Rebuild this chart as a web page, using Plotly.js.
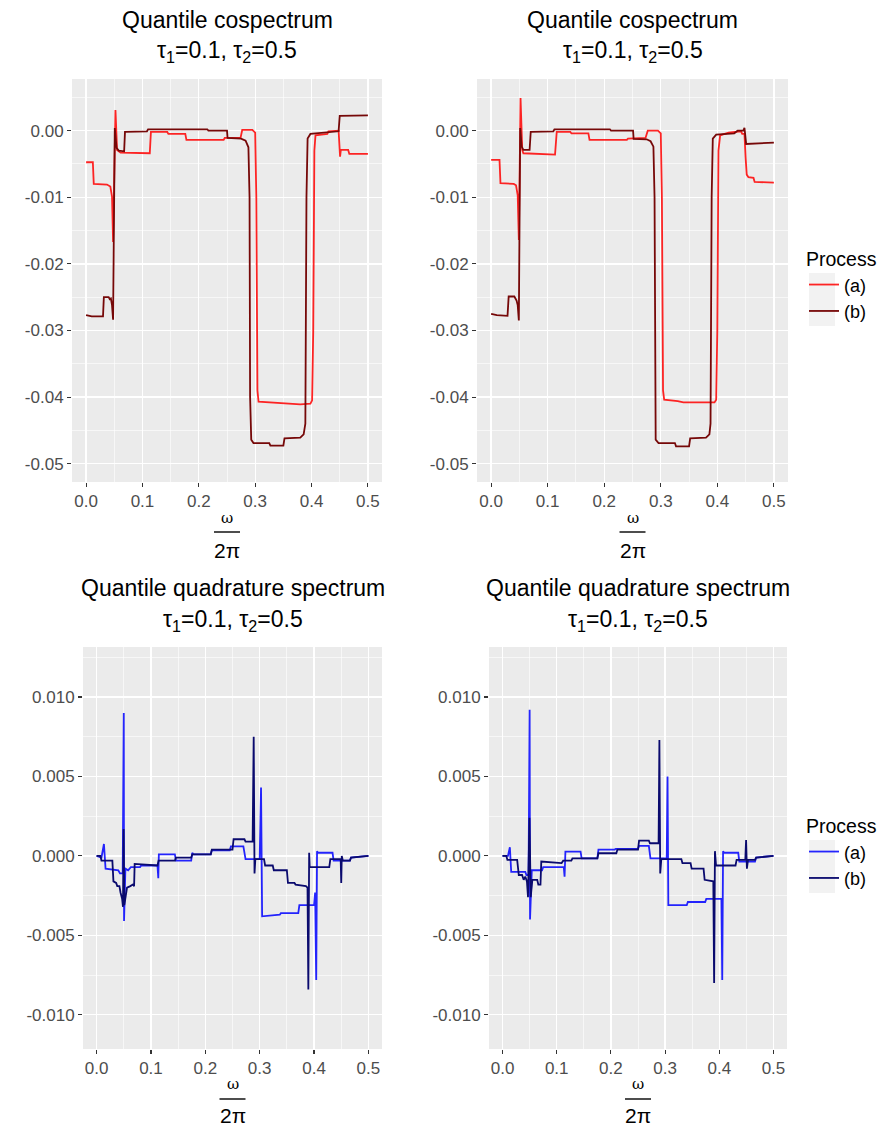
<!DOCTYPE html>
<html>
<head>
<meta charset="utf-8">
<script src="https://cdn.plot.ly/plotly-3.0.1.min.js"></script>
<style>html,body{margin:0;padding:0;background:#fff}#chart{width:883px;height:1126px}</style>
</head>
<body>
<div id="chart"></div>
<script>
// ---------- DATA ----------
// Top-left: quantile cospectrum
const tl_a_x = [0,0.012,0.0136,0.037,0.043,0.046,0.0479,0.0521,0.055,0.0611,0.113,0.115,0.144,0.146,0.176,0.178,0.244,0.246,0.274,0.277,0.295,0.300,0.302,0.304,0.306,0.33,0.36,0.38,0.398,0.401,0.403,0.405,0.407,0.428,0.430,0.448,0.4506,0.452,0.465,0.467,0.5];
const tl_a_y = [-0.00475,-0.00475,-0.0080,-0.0081,-0.0084,-0.0099,-0.0167,0.0031,-0.0029,-0.0033,-0.0034,-0.0002,-0.0002,-0.0005,-0.0005,-0.0014,-0.0014,-0.0011,-0.0011,0.0001,0.0001,-0.0003,-0.010,-0.039,-0.0407,-0.0408,-0.0410,-0.0411,-0.0410,-0.0405,-0.030,-0.003,-0.0007,-0.0005,-0.0001,0.0000,-0.0039,-0.0029,-0.0029,-0.0035,-0.0035];
const tl_b_x = [0,0.008,0.010,0.030,0.0315,0.040,0.042,0.044,0.046,0.0479,0.0509,0.054,0.058,0.0675,0.069,0.108,0.11,0.215,0.217,0.250,0.251,0.275,0.283,0.288,0.290,0.291,0.293,0.297,0.325,0.327,0.350,0.352,0.380,0.386,0.389,0.391,0.393,0.398,0.425,0.448,0.450,0.5];
const tl_b_y = [-0.0277,-0.0278,-0.0279,-0.0279,-0.0250,-0.0250,-0.0253,-0.0252,-0.0262,-0.0284,0.0004,-0.0026,-0.0030,-0.0031,-0.0002,-0.0001,0.0002,0.0002,0.0000,0.0000,-0.0011,-0.0012,-0.0015,-0.0025,-0.010,-0.040,-0.0464,-0.0469,-0.0469,-0.0473,-0.0473,-0.0462,-0.0461,-0.0456,-0.044,-0.010,-0.0012,-0.0005,-0.0003,-0.0001,0.0022,0.0023];
// Top-right: quantile cospectrum
const tr_a_x = [0,0.0148,0.0165,0.040,0.044,0.047,0.049,0.052,0.055,0.057,0.113,0.116,0.140,0.142,0.172,0.174,0.240,0.242,0.273,0.277,0.295,0.300,0.302,0.304,0.306,0.33,0.34,0.395,0.398,0.400,0.402,0.405,0.42,0.435,0.442,0.444,0.448,0.450,0.452,0.455,0.464,0.466,0.5];
const tr_a_y = [-0.0044,-0.0044,-0.0079,-0.0080,-0.0082,-0.0097,-0.0164,0.0049,-0.0029,-0.0034,-0.0036,-0.0002,-0.0002,-0.0004,-0.0004,-0.0014,-0.0014,-0.0012,-0.0011,0.0000,0.0000,-0.0004,-0.010,-0.039,-0.0404,-0.0406,-0.0408,-0.0408,-0.0404,-0.030,-0.003,-0.0007,-0.0003,-0.0001,-0.0001,-0.0005,-0.0005,-0.004,-0.0066,-0.0070,-0.0071,-0.0077,-0.0078];
const tr_b_x = [0,0.010,0.029,0.031,0.041,0.045,0.047,0.049,0.0514,0.054,0.057,0.068,0.070,0.110,0.112,0.210,0.212,0.251,0.252,0.275,0.282,0.287,0.289,0.290,0.291,0.296,0.325,0.327,0.350,0.352,0.380,0.386,0.388,0.390,0.392,0.398,0.430,0.436,0.446,0.448,0.451,0.5];
const tr_b_y = [-0.0275,-0.0277,-0.0278,-0.0249,-0.0249,-0.0255,-0.0262,-0.0285,0.0004,-0.0024,-0.0029,-0.0029,-0.0002,-0.0001,0.0002,0.0002,0.0000,0.0000,-0.00125,-0.0013,-0.0016,-0.0024,-0.010,-0.040,-0.0464,-0.0469,-0.0469,-0.0474,-0.0474,-0.0462,-0.0461,-0.0456,-0.044,-0.010,-0.0012,-0.0006,-0.0004,0.0000,0.0000,0.0004,-0.0020,-0.0018];
// Bottom-left: quantile quadrature spectrum
const bl_a_x = [0,0.009,0.0135,0.0165,0.040,0.043,0.048,0.0500,0.0505,0.053,0.058,0.063,0.080,0.082,0.112,0.1135,0.1145,0.144,0.146,0.174,0.176,0.178,0.210,0.212,0.245,0.247,0.270,0.274,0.300,0.3025,0.3045,0.337,0.339,0.371,0.373,0.400,0.402,0.404,0.4055,0.407,0.434,0.436,0.466,0.468,0.5];
const bl_a_y = [0.0000,-0.0001,0.00075,-0.0008,-0.0009,-0.0011,-0.0011,0.0090,-0.0041,-0.0008,-0.0009,-0.0007,-0.0007,-0.0006,-0.0006,-0.0014,0.0001,0.0001,-0.0003,-0.0003,0.0002,0.0001,0.0001,0.00035,0.00035,0.0006,0.0006,-0.0002,-0.0002,0.0043,-0.0038,-0.0037,-0.0036,-0.0036,-0.0031,-0.0031,-0.0023,-0.0078,0.0003,0.0002,0.0002,-0.0003,-0.0003,-0.0001,0.0000];
const bl_b_x = [0,0.007,0.009,0.029,0.031,0.036,0.038,0.042,0.044,0.047,0.0485,0.0497,0.051,0.053,0.056,0.062,0.067,0.069,0.070,0.112,0.114,0.144,0.146,0.174,0.176,0.210,0.212,0.250,0.252,0.272,0.274,0.287,0.289,0.2905,0.292,0.308,0.310,0.324,0.326,0.350,0.352,0.364,0.366,0.385,0.388,0.3895,0.391,0.392,0.428,0.430,0.449,0.450,0.451,0.453,0.466,0.468,0.5];
const bl_b_y = [0.0000,0.0000,-0.0003,-0.0003,-0.0016,-0.0017,-0.0019,-0.0019,-0.0023,-0.0027,-0.0032,0.0017,-0.0031,-0.0025,-0.0020,-0.0019,-0.0018,-0.0019,-0.0005,-0.0006,-0.0003,-0.0003,-0.0001,-0.0001,0.0001,0.0001,0.0004,0.0004,0.00105,0.00105,0.0009,0.0009,0.0075,-0.0011,-0.0002,-0.0002,-0.0006,-0.0006,-0.0009,-0.0009,-0.0017,-0.0017,-0.0018,-0.0019,-0.0020,-0.0084,0.0002,-0.0007,-0.0007,-0.0002,-0.0002,-0.0017,0.0000,-0.0003,-0.0003,-0.0001,0.0000];
// Bottom-right: quantile quadrature spectrum
const br_a_x = [0,0.010,0.0135,0.016,0.042,0.044,0.048,0.0500,0.0507,0.054,0.073,0.075,0.113,0.1145,0.116,0.144,0.146,0.175,0.177,0.207,0.209,0.250,0.252,0.270,0.273,0.303,0.3045,0.306,0.340,0.342,0.374,0.376,0.404,0.4055,0.407,0.409,0.435,0.437,0.466,0.468,0.5];
const br_a_y = [0.0000,0.0000,0.00055,-0.0010,-0.0010,-0.0012,-0.0012,0.0092,-0.0040,-0.0009,-0.0009,-0.0007,-0.0007,-0.0013,0.00027,0.00027,-0.00015,-0.00015,0.0004,0.0004,0.00045,0.00045,0.00063,0.00063,-0.00015,-0.00015,0.0050,-0.0031,-0.0031,-0.0029,-0.0029,-0.0027,-0.0027,-0.0078,0.0003,0.0002,0.0002,-0.00035,-0.00035,-0.0001,0.0000];
const br_b_x = [0,0.007,0.009,0.027,0.030,0.036,0.039,0.042,0.045,0.047,0.0497,0.052,0.055,0.064,0.066,0.070,0.0715,0.109,0.112,0.127,0.129,0.175,0.177,0.210,0.212,0.250,0.252,0.270,0.272,0.288,0.2895,0.291,0.293,0.330,0.332,0.347,0.349,0.371,0.373,0.389,0.3905,0.392,0.394,0.430,0.432,0.448,0.4495,0.451,0.453,0.466,0.468,0.5];
const br_b_y = [0.0000,0.0000,-0.00025,-0.00025,-0.0012,-0.0012,-0.0015,-0.0013,-0.0016,-0.0026,0.0024,-0.0026,-0.0015,-0.0015,-0.0018,-0.0018,-0.00035,-0.00045,-0.0003,-0.0003,-0.00015,-0.00015,0.00017,0.00017,0.0004,0.0004,0.00097,0.00097,0.0008,0.0008,0.0073,-0.0011,-0.0002,-0.0002,-0.00045,-0.00045,-0.0008,-0.0008,-0.0015,-0.0016,-0.0080,0.0003,-0.0006,-0.0006,-0.00025,-0.00025,0.0010,-0.0008,-0.00025,-0.00025,-0.0001,0.0000];

const seriesNames = ['(a)', '(b)'];
const legendTitle = 'Process';
const titleCo = 'Quantile cospectrum';
const titleQuad = 'Quantile quadrature spectrum';
const subTitle = 'τ<sub>1</sub>=0.1, τ<sub>2</sub>=0.5';
const xTickVals = [0, 0.1, 0.2, 0.3, 0.4, 0.5];
const xTickText = ['0.0', '0.1', '0.2', '0.3', '0.4', '0.5'];
const coTickVals = [0, -0.01, -0.02, -0.03, -0.04, -0.05];
const coTickText = ['0.00', '-0.01', '-0.02', '-0.03', '-0.04', '-0.05'];
const quadTickVals = [0.01, 0.005, 0, -0.005, -0.01];
const quadTickText = ['0.010', '0.005', '0.000', '-0.005', '-0.010'];

// ---------- STYLE / LAYOUT ----------
const W = 883, H = 1126;
const FONT = 'Liberation Sans, Arial, Helvetica, sans-serif';
const px = x => x / W;
const py = y => 1 - y / H;

const colA_red = 'rgba(255,0,0,0.85)';
const colB_red = '#760808';
const colA_blue = 'rgba(0,0,255,0.85)';
const colB_blue = '#0A0A6E';

function tr(x, y, name, color, xa, ya, show, lg) {
  return {x: x, y: y, type: 'scatter', mode: 'lines', name: name,
    line: {color: color, width: 1.8}, xaxis: xa, yaxis: ya,
    showlegend: show, legend: lg, hoverinfo: 'skip'};
}

const data = [
  tr(tl_a_x, tl_a_y, seriesNames[0], colA_red, 'x', 'y', true, 'legend'),
  tr(tl_b_x, tl_b_y, seriesNames[1], colB_red, 'x', 'y', true, 'legend'),
  tr(tr_a_x, tr_a_y, seriesNames[0], colA_red, 'x2', 'y2', false, 'legend'),
  tr(tr_b_x, tr_b_y, seriesNames[1], colB_red, 'x2', 'y2', false, 'legend'),
  tr(bl_a_x, bl_a_y, seriesNames[0], colA_blue, 'x3', 'y3', true, 'legend2'),
  tr(bl_b_x, bl_b_y, seriesNames[1], colB_blue, 'x3', 'y3', true, 'legend2'),
  tr(br_a_x, br_a_y, seriesNames[0], colA_blue, 'x4', 'y4', false, 'legend2'),
  tr(br_b_x, br_b_y, seriesNames[1], colB_blue, 'x4', 'y4', false, 'legend2')
];

const TICKFONT = {family: FONT, size: 17, color: '#4D4D4D'};
function xAxis(l, r, anchor) {
  return {domain: [px(l), px(r)], anchor: anchor, range: [-0.025, 0.525],
    tickmode: 'array', tickvals: xTickVals, ticktext: xTickText,
    ticks: 'outside', ticklen: 4, tickwidth: 1.1, tickcolor: '#333333',
    tickfont: TICKFONT,
    showgrid: true, gridcolor: '#FFFFFF', gridwidth: 1.3,
    minor: {tickmode: 'linear', tick0: 0, dtick: 0.05, showgrid: true, gridcolor: '#FFFFFF', gridwidth: 0.6, ticks: ''},
    zeroline: false, showline: false, fixedrange: true};
}
function yAxis(t, b, anchor, rng, tv, tt, minorD) {
  return {domain: [py(b), py(t)], anchor: anchor, range: rng,
    tickmode: 'array', tickvals: tv, ticktext: tt,
    ticks: 'outside', ticklen: 4, tickwidth: 1.1, tickcolor: '#333333',
    tickfont: TICKFONT,
    showgrid: true, gridcolor: '#FFFFFF', gridwidth: 1.3,
    minor: {tickmode: 'linear', tick0: 0, dtick: minorD, showgrid: true, gridcolor: '#FFFFFF', gridwidth: 0.6, ticks: ''},
    zeroline: false, showline: false, fixedrange: true};
}

const panels = {
  tl: {l: 72, r: 382, t: 79, b: 482},
  tr: {l: 477, r: 788, t: 79, b: 482},
  bl: {l: 83, r: 382, t: 647, b: 1049},
  br: {l: 489, r: 787, t: 647, b: 1049}
};
const coRange = [-0.05275, 0.00775];
const quadRange = [-0.01215, 0.01315];

const annotations = [];
const shapes = [];
function titleBlock(p, line1, y1, y2) {
  const cx = (p.l + p.r) / 2;
  annotations.push({text: line1, x: px(cx), y: py(y1), xref: 'paper', yref: 'paper',
    xanchor: 'center', yanchor: 'middle', showarrow: false, font: {family: FONT, size: 23, color: '#000'}});
  annotations.push({text: subTitle, x: px(cx), y: py(y2), xref: 'paper', yref: 'paper',
    xanchor: 'center', yanchor: 'middle', showarrow: false, font: {family: FONT, size: 23, color: '#000'}});
}
function fracLabel(p, yOm, yLine, yPi) {
  const cx = (p.l + p.r) / 2;
  annotations.push({text: 'ω', x: px(cx), y: py(yOm), xref: 'paper', yref: 'paper',
    xanchor: 'center', yanchor: 'middle', showarrow: false, font: {family: 'DejaVu Serif, serif', size: 15, color: '#000'}});
  annotations.push({text: '2π', x: px(cx), y: py(yPi), xref: 'paper', yref: 'paper',
    xanchor: 'center', yanchor: 'middle', showarrow: false, font: {family: FONT, size: 21, color: '#000'}});
  shapes.push({type: 'line', xref: 'paper', yref: 'paper', x0: px(cx - 13), x1: px(cx + 13), y0: py(yLine), y1: py(yLine),
    line: {color: '#000', width: 1.4}});
}
titleBlock(panels.tl, titleCo, 20, 52);
titleBlock(panels.tr, titleCo, 20, 52);
titleBlock(panels.bl, titleQuad, 588, 620);
titleBlock(panels.br, titleQuad, 588, 620);
fracLabel(panels.tl, 518, 532, 550);
fracLabel(panels.tr, 518, 532, 550);
fracLabel(panels.bl, 1084, 1099, 1115);
fracLabel(panels.br, 1084, 1099, 1115);

// legend key backgrounds
shapes.push({type: 'rect', xref: 'paper', yref: 'paper', x0: px(809), x1: px(835), y0: py(273), y1: py(326), fillcolor: '#F2F2F2', line: {width: 0}, layer: 'below'});
shapes.push({type: 'rect', xref: 'paper', yref: 'paper', x0: px(809), x1: px(835), y0: py(840), y1: py(893), fillcolor: '#F2F2F2', line: {width: 0}, layer: 'below'});

const legendCommon = {xanchor: 'left', yanchor: 'top', bgcolor: 'rgba(0,0,0,0)', borderwidth: 0,
  font: {family: FONT, size: 18, color: '#000'}, itemwidth: 30, tracegroupgap: 0};

const layout = {
  width: W, height: H, margin: {l: 0, r: 0, t: 0, b: 0},
  paper_bgcolor: '#FFFFFF', plot_bgcolor: '#EBEBEB',
  font: {family: FONT},
  xaxis: xAxis(panels.tl.l, panels.tl.r, 'y'),
  yaxis: yAxis(panels.tl.t, panels.tl.b, 'x', coRange, coTickVals, coTickText, 0.005),
  xaxis2: xAxis(panels.tr.l, panels.tr.r, 'y2'),
  yaxis2: yAxis(panels.tr.t, panels.tr.b, 'x2', coRange, coTickVals, coTickText, 0.005),
  xaxis3: xAxis(panels.bl.l, panels.bl.r, 'y3'),
  yaxis3: yAxis(panels.bl.t, panels.bl.b, 'x3', quadRange, quadTickVals, quadTickText, 0.0025),
  xaxis4: xAxis(panels.br.l, panels.br.r, 'y4'),
  yaxis4: yAxis(panels.br.t, panels.br.b, 'x4', quadRange, quadTickVals, quadTickText, 0.0025),
  legend: Object.assign({}, legendCommon, {x: px(804), y: py(241), title: {text: legendTitle, font: {family: FONT, size: 19.5, color: '#000'}}}),
  legend2: Object.assign({}, legendCommon, {x: px(804), y: py(808), title: {text: legendTitle, font: {family: FONT, size: 19.5, color: '#000'}}}),
  annotations: annotations,
  shapes: shapes
};

Plotly.newPlot('chart', data, layout, {staticPlot: true, displayModeBar: false});
</script>
</body>
</html>
